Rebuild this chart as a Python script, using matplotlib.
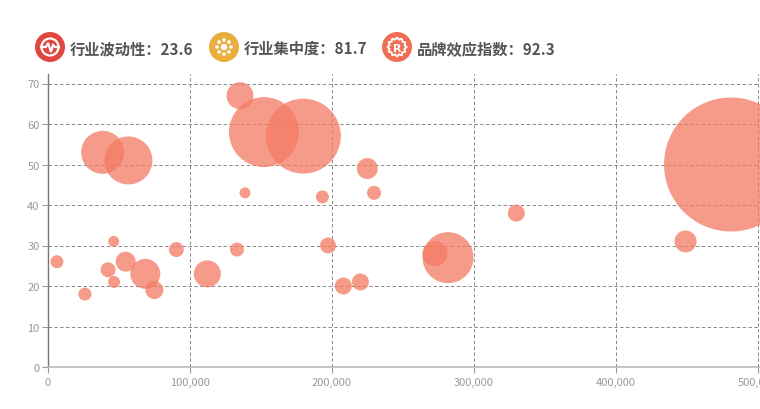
import matplotlib
matplotlib.use("Agg")
import matplotlib.pyplot as plt
import matplotlib.ticker as mticker
from matplotlib.patches import Circle
import numpy as np

# ── data ──────────────────────────────────────────────────────────────────
revenue = [6300, 26000, 38500, 56600, 46300, 42300, 46500, 54700, 68500, 74900,
           90400, 112200, 133100, 135200, 138700, 152100, 179800, 224900, 229600,
           193200, 197200, 208000, 220000, 272500, 281700, 329800, 449000, 481000]
score = [26, 18, 53, 51, 31, 24, 21, 26, 23, 19,
         29, 23, 29, 67, 43, 58, 57, 49, 43,
         42, 30, 20, 21, 28, 27, 38, 31, 50]
bubble = [13, 13, 43, 48, 11, 15, 12, 20, 30, 18,
          15, 27, 14, 27, 11, 70, 75, 21, 14,
          13, 16, 17, 17, 25, 51, 17, 22, 134]

kpi_labels = ["行业波动性", "行业集中度", "品牌效应指数"]
kpi_values = [23.6, 81.7, 92.3]

x_ticks = [0, 100000, 200000, 300000, 400000, 500000]
y_ticks = [0, 10, 20, 30, 40, 50, 60, 70]

W, H = 760, 410
BUBBLE = "#F47A63"
ICON_COLORS = ["#E0463F", "#E9AE3D", "#EF6F55"]

plt.rcParams["font.family"] = ["Noto Sans CJK SC", "DejaVu Sans"]

fig = plt.figure(figsize=(W / 100, H / 100), dpi=100)

# plot area in pixel terms: x 48..760, y 75..368
left, right, top, bottom = 48, 760, 75, 368
ax = fig.add_axes([left / W, 1 - bottom / H, (right - left) / W, (bottom - top) / H])
px_per_x = 710 / 500000
ax.set_xlim(0, (right - left) / px_per_x)
ax.set_ylim(0, (bottom - top) / (283.5 / 70))

area = [(d * 0.72) ** 2 for d in bubble]
ax.scatter(revenue, score, s=area, color=BUBBLE, alpha=0.75, linewidths=0,
           clip_on=False, zorder=3)

ax.set_xticks(x_ticks)
ax.set_yticks(y_ticks)
ax.xaxis.set_major_formatter(mticker.FuncFormatter(lambda v, _: f"{v:,.0f}"))
ax.tick_params(axis="both", colors="#999999", labelsize=8, length=4, width=0.8)
ax.tick_params(axis="x", pad=3)
ax.tick_params(axis="y", pad=2)
ax.grid(True, color="#888888", linestyle=(0, (3.5, 2.5)), linewidth=0.7)
ax.set_axisbelow(True)
for side in ("top", "right"):
    ax.spines[side].set_visible(False)
ax.spines["left"].set_color("#777777")
ax.spines["left"].set_linewidth(1.0)
ax.spines["bottom"].set_color("#bbbbbb")
ax.spines["bottom"].set_linewidth(1.2)

# ── KPI header with round icons ───────────────────────────────────────────
hdr = fig.add_axes([0, 0, 1, 1], zorder=5)
hdr.set_xlim(0, W)
hdr.set_ylim(H, 0)
hdr.set_aspect("equal")
hdr.axis("off")
hdr.patch.set_visible(False)

icon_x = [50, 224, 397]
icon_y = 48
for i, (cx, lab, val) in enumerate(zip(icon_x, kpi_labels, kpi_values)):
    hdr.add_patch(Circle((cx, icon_y), 15, color=ICON_COLORS[i], lw=0))
    if i == 0:
        hdr.add_patch(Circle((cx, icon_y), 8.5, fill=False, ec="white", lw=1.6))
        zx = cx + np.array([-9, -4, -2, 1, 3, 5, 9])
        zy = icon_y + np.array([0, 0, -4, 5, -2, 0, 0])
        hdr.plot(zx, zy, color="white", lw=1.6, solid_joinstyle="miter")
    elif i == 1:
        hdr.add_patch(Circle((cx, icon_y), 3.2, color="white", lw=0))
        for a in np.linspace(0, 2 * np.pi, 8, endpoint=False):
            hdr.add_patch(Circle((cx + 7 * np.cos(a), icon_y + 7 * np.sin(a)),
                                 1.8, color="white", lw=0))
    else:
        t = np.linspace(0, 2 * np.pi, 200)
        rr = 8.5 + 0.9 * np.cos(12 * t)
        hdr.plot(cx + rr * np.cos(t), icon_y + rr * np.sin(t), color="white", lw=1.3)
        hdr.text(cx, icon_y + 0.5, "R", color="white", fontsize=8, fontweight="bold",
                 ha="center", va="center", family="DejaVu Sans")
    hdr.text(cx + 20, icon_y + 1, f"{lab}：{val}", color="#555555", fontsize=11,
             fontweight="bold", ha="left", va="center")

fig.savefig("out.png", dpi=100)
